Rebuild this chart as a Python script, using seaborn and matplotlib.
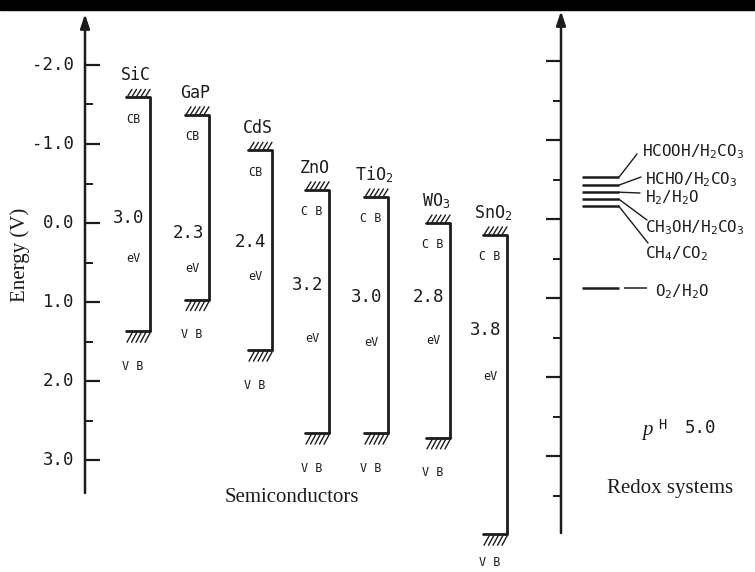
import numpy as np
import pandas as pd
import matplotlib
matplotlib.use("Agg")
import matplotlib.pyplot as plt
import seaborn as sns
from matplotlib.patches import Rectangle

sns.set_theme(style="white")
plt.rcParams['font.family'] = ['DejaVu Sans Mono', 'DejaVu Sans']
plt.rcParams['mathtext.fontset'] = 'custom'
plt.rcParams['mathtext.rm'] = 'DejaVu Sans Mono'
plt.rcParams['mathtext.it'] = 'Liberation Serif:italic'

# --- band edges (V, negative = higher energy) ---
materials = ["SiC", "GaP", "CdS", "ZnO", "TiO$_2$", "WO$_3$", "SnO$_2$"]
cb_edge = [-1.59, -1.37, -0.92, -0.42, -0.33, 0.00, 0.15]
vb_edge = [1.37, 0.97, 1.61, 2.66, 2.66, 2.72, 3.94]
gap_labels = ["3.0", "2.3", "2.4", "3.2", "3.0", "2.8", "3.8"]
cb_text = ["CB", "CB", "CB", "C B", "C B", "C B", "C B"]

# --- redox couples at pH 5.0 ---
redox_couples = ["HCOOH/H$_2$CO$_3$", "HCHO/H$_2$CO$_3$", "H$_2$/H$_2$O",
                 "CH$_3$OH/H$_2$CO$_3$", "CH$_4$/CO$_2$", "O$_2$/H$_2$O"]
redox_level = [-0.58, -0.48, -0.39, -0.30, -0.21, 0.82]

major_ticks = [-2.0, -1.0, 0.0, 1.0, 2.0, 3.0]
tick_labels = ["-2.0", "-1.0", "0.0", "1.0", "2.0", "3.0"]

# --- layout (pixel columns / rows of the original drawing) ---
W, H = 755, 572
PX = 1 / 79.0   # volts per pixel row
Y0 = 223        # pixel row of 0.0 V


def e(py):
    return (py - Y0) * PX


ink = "#1c1c1c"
band_x = [150, 209, 272, 329, 388, 450, 507]
gap_y = [218, 233, 242, 285, 297, 297, 330]
ev_y = [258, 268, 277, 338, 343, 341, 377]

fig = plt.figure(figsize=(7.55, 5.72), dpi=100)
ax = fig.add_axes([0, 0, 1, 1])

# band diagrams: CB shelf -> vertical -> VB shelf
rows = []
for m, x, cb, vb in zip(materials, band_x, cb_edge, vb_edge):
    for xx, yy in [(x - 24, cb), (x, cb), (x, vb), (x - 24, vb)]:
        rows.append({"material": m, "x": xx, "E": yy})
bands = pd.DataFrame(rows)
sns.lineplot(data=bands, x="x", y="E", units="material", estimator=None,
             sort=False, color=ink, lw=2.0, ax=ax, legend=False)


def hatch(x, E, below):
    for k in range(5):
        xs = x - 23 + 4.5 * k
        if below:
            ax.plot([xs, xs + 6], [E + 11 * PX, E], color=ink, lw=1.0)
        else:
            ax.plot([xs, xs + 5], [E, E - 8 * PX], color=ink, lw=1.0)


for i, x in enumerate(band_x):
    hatch(x, cb_edge[i], below=False)
    hatch(x, vb_edge[i], below=True)
    ax.text(x - 14, cb_edge[i] - 22 * PX, materials[i], ha='center', va='center',
            fontsize=12, color=ink)
    ax.text(x - 17, cb_edge[i] + 22 * PX, cb_text[i], ha='center', va='center',
            fontsize=8.5, color=ink)
    ax.text(x - 21, e(gap_y[i]), gap_labels[i], ha='center', va='center',
            fontsize=12.5, color=ink)
    ax.text(x - 17, e(ev_y[i]), "eV", ha='center', va='center',
            fontsize=8.5, color=ink)
    ax.text(x - 17, min(vb_edge[i] + 35 * PX, e(563)), "V B", ha='center',
            va='center', fontsize=8.5, color=ink)

# left energy axis
arrow = dict(arrowstyle="-|>,head_length=0.6,head_width=0.2", color=ink, lw=1.8,
             mutation_scale=14, shrinkA=0, shrinkB=0)
ax.annotate("", xy=(85, e(14)), xytext=(85, e(493)), arrowprops=arrow)
ax.hlines(major_ticks, 85, 100, color=ink, lw=1.6)
ax.hlines([t + 0.5 for t in major_ticks[:-1]], 85, 93, color=ink, lw=1.4)
for t, lab in zip(major_ticks, tick_labels):
    ax.text(74, t, lab, ha='right', va='center', fontsize=12.5, color=ink)
ax.text(20, e(255), "Energy (V)", rotation=90, ha='center', va='center',
        fontsize=15, family='Liberation Serif', color=ink)

# right (redox) axis
ax.annotate("", xy=(561, e(11)), xytext=(561, e(533)), arrowprops=arrow)
ax.hlines([t - 0.05 for t in major_ticks], 546, 561, color=ink, lw=1.6)
ax.hlines([t + 0.45 for t in major_ticks], 553, 561, color=ink, lw=1.4)

# redox levels with leader lines
ax.hlines(redox_level, 582, 619, color=ink, lw=1.8)
ax.hlines(redox_level[-1], 624, 647, color=ink, lw=1.1)
leader_end = [(637, e(154)), (641, e(177)), (640, e(193)), (647, e(220)), (648, e(243))]
for lvl, (xe, ye) in zip(redox_level, leader_end):
    ax.plot([619, xe], [lvl, ye], color=ink, lw=1.0)
label_x = [642, 645, 645, 645, 645, 655]
label_y = [152, 180, 198, 228, 254, 292]
for name, lx, ly in zip(redox_couples, label_x, label_y):
    ax.text(lx, e(ly), name, ha='left', va='center', fontsize=11.5, color=ink)

ax.text(647, e(431), "p", ha='center', va='center', fontsize=15,
        family='Liberation Serif', style='italic', color=ink)
ax.text(662, e(425), "H", ha='center', va='center', fontsize=10, color=ink)
ax.text(701, e(428), "5.0", ha='center', va='center', fontsize=12.5, color=ink)

ax.text(292, e(497), "Semiconductors", ha='center', va='center', fontsize=15,
        family='Liberation Serif', color=ink)
ax.text(670, e(488), "Redox systems", ha='center', va='center', fontsize=15,
        family='Liberation Serif', color=ink)

ax.set_xlim(0, W)
ax.set_ylim(e(H), e(0))
ax.axis('off')

# dark strip along the top edge of the scanned page
fig.add_artist(Rectangle((0, 1 - 10 / H), 1, 10 / H, transform=fig.transFigure,
                         color='black', zorder=10))

fig.savefig('out.png', dpi=100)
